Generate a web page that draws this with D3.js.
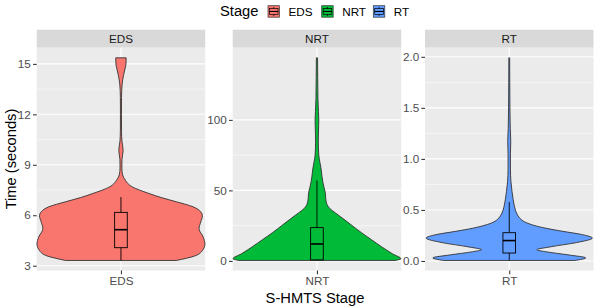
<!DOCTYPE html>
<html>
<head>
<meta charset="utf-8">
<script src="https://cdn.jsdelivr.net/npm/d3@7"></script>
<style>
  body { margin: 0; background: #fff; }
  svg text { font-family: "Liberation Sans", Arial, sans-serif; }
</style>
</head>
<body>
<svg id="chart" width="598" height="306"></svg>
<script>
// ---- data ----
const stages = ['EDS', 'NRT', 'RT'];

// violin outline: [time, relative density width]
const edsViolin = [
  [3.31, 0.66], [3.58, 0.88], [3.9, 0.97], [4.3, 1.0], [4.7, 0.98], [5.2, 0.93],
  [5.6, 0.95], [5.96, 0.97], [6.2, 0.95], [6.5, 0.86], [6.8, 0.66], [7.05, 0.48],
  [7.3, 0.33], [7.7, 0.13], [8.1, 0.05], [8.4, 0.02], [8.8, 0.011], [9.3, 0.012],
  [9.85, 0.026], [10.4, 0.012], [11.0, 0.007], [12.0, 0.006], [13.0, 0.007],
  [13.8, 0.014], [14.3, 0.03], [14.7, 0.048], [15.0, 0.06], [15.36, 0.062]
];
const nrtViolin = [
  [0.3, 0.93], [1.5, 1.0], [5, 0.9], [10, 0.77], [15, 0.65], [20, 0.53], [25, 0.42],
  [30, 0.31], [34, 0.22], [37, 0.155], [40, 0.12], [44, 0.105], [48, 0.1], [52, 0.085],
  [56, 0.07], [60, 0.06], [65, 0.05], [70, 0.035], [75, 0.022], [85, 0.016],
  [95, 0.02], [100, 0.022], [106, 0.018], [115, 0.012], [130, 0.009], [144, 0.007]
];
const rtViolin = [
  [0.005, 0.78], [0.03, 0.91], [0.06, 0.7], [0.09, 0.44], [0.11, 0.33], [0.14, 0.5],
  [0.18, 0.8], [0.225, 0.99], [0.26, 0.86], [0.29, 0.64], [0.32, 0.44], [0.35, 0.29],
  [0.38, 0.19], [0.42, 0.125], [0.46, 0.092], [0.5, 0.073], [0.55, 0.058], [0.6, 0.047],
  [0.68, 0.033], [0.78, 0.02], [0.9, 0.014], [1.05, 0.014], [1.17, 0.018], [1.3, 0.012],
  [1.5, 0.008], [1.75, 0.006], [1.99, 0.005]
];

// box: [lower whisker, q1, median, q3, upper whisker]
const edsBox = [3.31, 4.07, 5.14, 6.17, 7.08];
const nrtBox = [0.3, 0.7, 12, 23.6, 57];
const rtBox = [0.005, 0.078, 0.2, 0.277, 0.577];

const edsTicks = [3, 6, 9, 12, 15];
const nrtTicks = [0, 50, 100];
const rtTicks = [0, 0.5, 1, 1.5, 2];
const edsTickLabels = ['3', '6', '9', '12', '15'];
const nrtTickLabels = ['0', '50', '100'];
const rtTickLabels = ['0.0', '0.5', '1.0', '1.5', '2.0'];

// ---- styling / layout ----
const colors = { EDS: '#F8766D', NRT: '#00BA38', RT: '#619CFF' };
const panels = [
  { name: 'EDS', left: 36.7, violin: edsViolin, box: edsBox, ticks: edsTicks, labels: edsTickLabels },
  { name: 'NRT', left: 232.7, violin: nrtViolin, box: nrtBox, ticks: nrtTicks, labels: nrtTickLabels },
  { name: 'RT', left: 425, violin: rtViolin, box: rtBox, ticks: rtTicks, labels: rtTickLabels }
];
const panelW = 168.5;
const stripTop = 29.7, stripH = 18, panelTop = 47.7, panelBottom = 270.6;
const violinHalf = 0.598, boxHalf = 0.045;

const svg = d3.select('#chart');

panels.forEach(p => {
  const g = svg.append('g').attr('transform', `translate(${p.left},0)`);

  const x = d3.scaleLinear().domain([0.4, 1.6]).range([0, panelW]);
  const ext = d3.extent(p.violin, d => d[0]);
  const pad = (ext[1] - ext[0]) * 0.05;
  const y = d3.scaleLinear().domain([ext[0] - pad, ext[1] + pad]).range([panelBottom, panelTop]);

  // strip
  g.append('rect')
    .attr('x', 0).attr('y', stripTop)
    .attr('width', panelW).attr('height', stripH)
    .attr('fill', '#D9D9D9');
  g.append('text')
    .attr('x', panelW / 2).attr('y', stripTop + stripH / 2 + 4.2)
    .attr('text-anchor', 'middle')
    .attr('font-size', '11.7px')
    .attr('fill', '#1A1A1A')
    .text(p.name);

  // panel background + grid
  g.append('rect')
    .attr('x', 0).attr('y', panelTop)
    .attr('width', panelW).attr('height', panelBottom - panelTop)
    .attr('fill', '#EBEBEB');

  const minor = d3.pairs(p.ticks).map(([a, b]) => (a + b) / 2);
  g.selectAll('.minor')
    .data(minor)
    .join('line')
      .attr('x1', 0).attr('x2', panelW)
      .attr('y1', d => y(d)).attr('y2', d => y(d))
      .attr('stroke', '#fff').attr('stroke-width', 0.55);
  g.selectAll('.major')
    .data(p.ticks)
    .join('line')
      .attr('x1', 0).attr('x2', panelW)
      .attr('y1', d => y(d)).attr('y2', d => y(d))
      .attr('stroke', '#fff').attr('stroke-width', 1.07);
  g.append('line')
    .attr('x1', x(1)).attr('x2', x(1))
    .attr('y1', panelTop).attr('y2', panelBottom)
    .attr('stroke', '#fff').attr('stroke-width', 1.07);

  // violin
  const area = d3.area()
    .curve(d3.curveMonotoneY)
    .y(d => y(d[0]))
    .x0(d => x(1 - d[1] * violinHalf))
    .x1(d => x(1 + d[1] * violinHalf));
  g.append('path')
    .datum(p.violin)
    .attr('d', area)
    .attr('fill', colors[p.name])
    .attr('stroke', '#333333')
    .attr('stroke-width', 0.9);

  // boxplot
  const b = p.box;
  g.append('line')
    .attr('x1', x(1)).attr('x2', x(1))
    .attr('y1', y(b[0])).attr('y2', y(b[1]))
    .attr('stroke', '#000').attr('stroke-width', 0.9);
  g.append('line')
    .attr('x1', x(1)).attr('x2', x(1))
    .attr('y1', y(b[3])).attr('y2', y(b[4]))
    .attr('stroke', '#000').attr('stroke-width', 0.9);
  g.append('rect')
    .attr('x', x(1 - boxHalf)).attr('y', y(b[3]))
    .attr('width', x(1 + boxHalf) - x(1 - boxHalf))
    .attr('height', y(b[1]) - y(b[3]))
    .attr('fill', colors[p.name])
    .attr('stroke', '#000').attr('stroke-width', 0.9);
  g.append('line')
    .attr('x1', x(1 - boxHalf)).attr('x2', x(1 + boxHalf))
    .attr('y1', y(b[2])).attr('y2', y(b[2]))
    .attr('stroke', '#000').attr('stroke-width', 1.6);

  // axes
  const yAxis = d3.axisLeft(y)
    .tickValues(p.ticks)
    .tickFormat((d, i) => p.labels[i])
    .tickSize(3.65).tickPadding(2.2);
  const yg = g.append('g').call(yAxis);
  yg.select('.domain').remove();
  yg.selectAll('line').attr('stroke', '#333333').attr('stroke-width', 1.07);
  yg.selectAll('text')
    .attr('fill', '#4D4D4D')
    .attr('font-size', '11.7px')
    .attr('font-family', '"Liberation Sans", Arial, sans-serif');

  const xAxis = d3.axisBottom(x)
    .tickValues([1])
    .tickFormat(() => p.name)
    .tickSize(3.65).tickPadding(2.2);
  const xg = g.append('g').attr('transform', `translate(0,${panelBottom})`).call(xAxis);
  xg.select('.domain').remove();
  xg.selectAll('line').attr('stroke', '#333333').attr('stroke-width', 1.07);
  xg.selectAll('text')
    .attr('fill', '#4D4D4D')
    .attr('font-size', '11.7px')
    .attr('font-family', '"Liberation Sans", Arial, sans-serif');
});

// axis titles
svg.append('text')
  .attr('transform', `translate(16,159) rotate(-90)`)
  .attr('text-anchor', 'middle')
  .attr('font-size', '14.7px')
  .attr('fill', '#000')
  .text('Time (seconds)');

svg.append('text')
  .attr('x', 315).attr('y', 303)
  .attr('text-anchor', 'middle')
  .attr('font-size', '14.7px')
  .attr('fill', '#000')
  .text('S-HMTS Stage');

// legend
const legend = svg.append('g');
legend.append('text')
  .attr('x', 220).attr('y', 16.3)
  .attr('font-size', '14.7px')
  .text('Stage');

const keyX = [268, 321.7, 373.3];
const keyS = 11.5, keyTop = 5.7;
stages.forEach((s, i) => {
  const k = legend.append('g').attr('transform', `translate(${keyX[i]},${keyTop})`);
  k.append('rect')
    .attr('width', keyS).attr('height', keyS)
    .attr('fill', colors[s])
    .attr('stroke', '#333333').attr('stroke-width', 0.7);
  k.append('line')
    .attr('x1', keyS / 2).attr('x2', keyS / 2)
    .attr('y1', keyS * 0.1).attr('y2', keyS * 0.9)
    .attr('stroke', '#000').attr('stroke-width', 0.7);
  k.append('rect')
    .attr('x', keyS * 0.125).attr('y', keyS * 0.25)
    .attr('width', keyS * 0.75).attr('height', keyS * 0.5)
    .attr('fill', colors[s])
    .attr('stroke', '#000').attr('stroke-width', 0.7);
  k.append('line')
    .attr('x1', keyS * 0.125).attr('x2', keyS * 0.875)
    .attr('y1', keyS / 2).attr('y2', keyS / 2)
    .attr('stroke', '#000').attr('stroke-width', 1.1);
  legend.append('text')
    .attr('x', keyX[i] + keyS + 9).attr('y', keyTop + keyS / 2 + 4.1)
    .attr('font-size', '11.7px')
    .attr('fill', '#000')
    .text(s);
});
</script>
</body>
</html>
